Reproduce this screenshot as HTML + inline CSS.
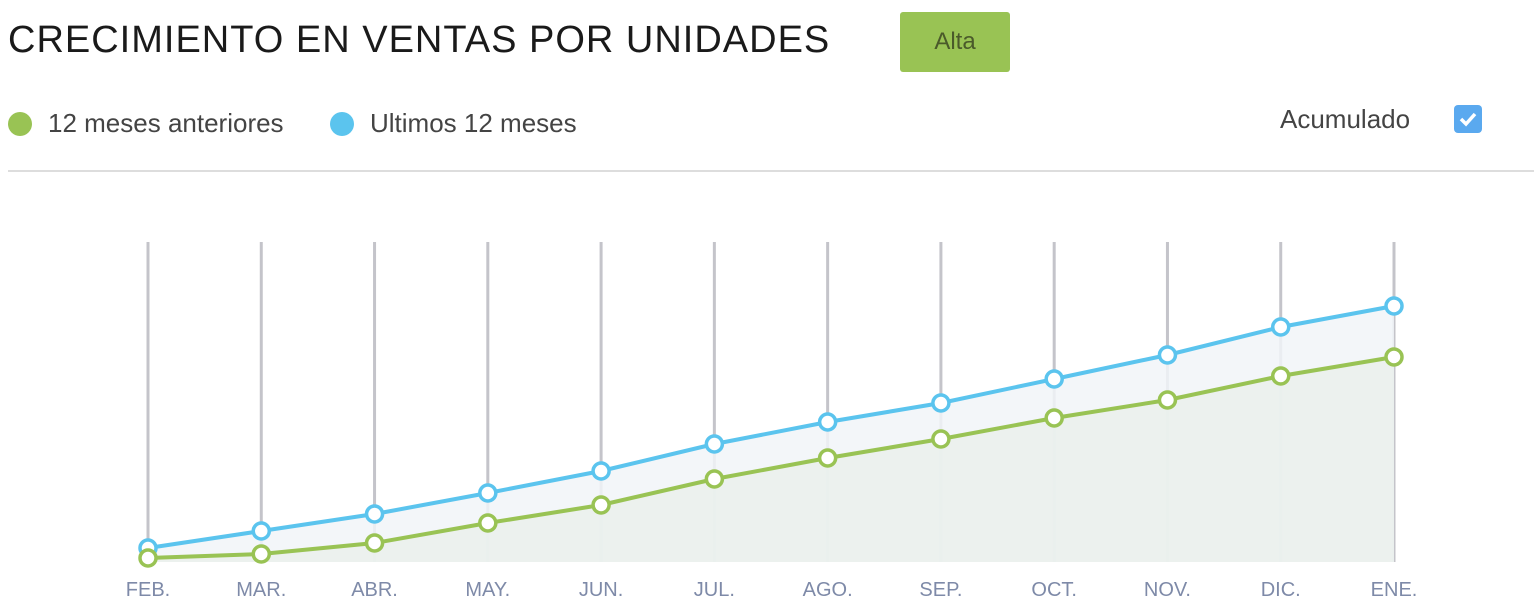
<!DOCTYPE html>
<html><head><meta charset="utf-8"><style>
body{margin:0;width:1534px;height:614px;background:#fff;font-family:"Liberation Sans",sans-serif;overflow:hidden;position:relative}
.title{position:absolute;left:8px;top:18px;font-size:38px;color:#1a1a1a;letter-spacing:1px;line-height:44px}
.badge{position:absolute;left:900px;top:12px;width:110px;height:60px;background:#99c354;border-radius:3px;color:#4a5a2a;font-size:24px;line-height:60px;text-align:center}
.leg{position:absolute;top:108px;font-size:26px;color:#444;display:flex;align-items:center}
.dot{width:24px;height:24px;border-radius:50%;margin-right:16px}
.acc{position:absolute;left:1280px;top:104px;font-size:26px;color:#444}
.cb{position:absolute;left:1454px;top:105px;width:28px;height:28px;background:#5aa9ef;border-radius:4px}
.hr{position:absolute;left:8px;top:170px;width:1526px;height:2px;background:#ddd}
</style></head><body>
<div class="title">CRECIMIENTO EN VENTAS POR UNIDADES</div>
<div class="badge">Alta</div>
<div class="leg" style="left:8px"><div class="dot" style="background:#99c354"></div>12 meses anteriores</div>
<div class="leg" style="left:330px"><div class="dot" style="background:#5bc4ee"></div>Ultimos 12 meses</div>
<div class="acc">Acumulado</div>
<div class="cb"><svg width="28" height="28"><path d="M7 14 L12 19 L21 9" stroke="#fff" stroke-width="3.5" fill="none"/></svg></div>
<div class="hr"></div>
<svg id="chart" width="1534" height="614" style="position:absolute;left:0;top:0"></svg>
<script>
const months=["FEB.","MAR.","ABR.","MAY.","JUN.","JUL.","AGO.","SEP.","OCT.","NOV.","DIC.","ENE."];
const lastYear=[14,31,48,69,91,118,140,159,183,207,235,256];
const prevYear=[4,8,19,39,57,83,104,123,144,162,186,205];
const maxV=320;
const NS="http://www.w3.org/2000/svg";
const svg=document.getElementById('chart');
const xs=[148,253,369,481,596,708,822,938,1050,1166,1278,1394];
function x(i){return 148+i*(1394-148)/(months.length-1);}
function y(v){return 562-v*(562-242)/maxV;}
function mk(t,a){const e=document.createElementNS(NS,t);for(const k in a)e.setAttribute(k,a[k]);svg.appendChild(e);return e;}
months.forEach((m,i)=>{
 const l=mk('line',{x1:x(i),x2:x(i),y1:242,y2:562,stroke:'#c4c4ca','stroke-width':3});
 
 
 const t=mk('text',{x:x(i),y:596,'text-anchor':'middle','font-size':20,fill:'#7e8aa8','font-family':'Liberation Sans, sans-serif'});
 t.textContent=m;
 
 
});
function area(arr,fill,name){
 let d='M'+x(0)+' 562';arr.forEach((v,i)=>d+=' L'+x(i)+' '+y(v));d+=' L'+x(arr.length-1)+' 562 Z';
 const p=mk('path',{d:d,fill:fill,opacity:0.85});
 
 
}
area(lastYear,'#f1f5f8','area-last');
area(prevYear,'#eaf0ec','area-previous');
function line(arr,col,name){
 const p=mk('polyline',{points:arr.map((v,i)=>x(i)+','+y(v)).join(' '),fill:'none',stroke:col,'stroke-width':4});
 
 
 arr.forEach((v,i)=>{const c=mk('circle',{cx:x(i),cy:y(v),r:8,fill:'#fff',stroke:col,'stroke-width':3.5});
 
 });
}
line(lastYear,'#5bc4ee','line-last');
line(prevYear,'#99c354','line-previous');
</script>
</body></html>
